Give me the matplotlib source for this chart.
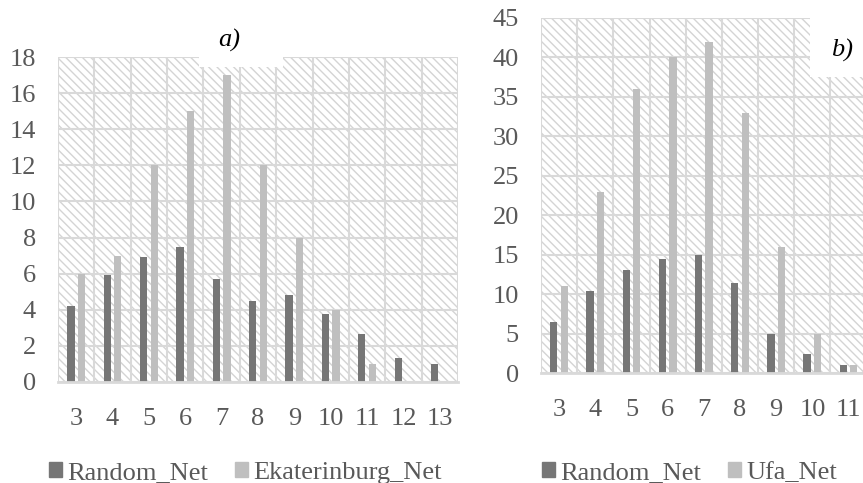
import numpy as np
import matplotlib
matplotlib.use('Agg')
import matplotlib.pyplot as plt
from matplotlib.patches import Rectangle

# --- data ---
cats_a = [3, 4, 5, 6, 7, 8, 9, 10, 11, 12, 13]
random_a = [4.2, 5.9, 6.9, 7.5, 5.7, 4.5, 4.8, 3.75, 2.65, 1.35, 1.0]
ekb_a = [6, 7, 12, 15, 17, 12, 8, 4, 1, 0, 0]

cats_b = [3, 4, 5, 6, 7, 8, 9, 10, 11]
random_b = [6.5, 10.4, 13.0, 14.5, 14.9, 11.4, 4.9, 2.4, 1.0]
ufa_b = [11, 23, 36, 40, 42, 33, 16, 5, 1]

DARK = '#767676'
LIGHT = '#bfbfbf'
GRID = '#d9d9d9'
TXT = '#595959'
FS = 19

plt.rcParams['font.family'] = ['Liberation Serif', 'DejaVu Serif']
plt.rcParams['hatch.linewidth'] = 1.0

W, H = 863, 483
fig = plt.figure(figsize=(W / 100, H / 100), dpi=100)


def px_axes(x0, y0, x1, y1):
    # pixel box -> figure fraction
    return fig.add_axes([x0 / W, 1 - y1 / H, (x1 - x0) / W, (y1 - y0) / H])


def draw_panel(ax, cats, s1, s2, ymax, ystep):
    ax.add_patch(Rectangle((0, 0), 1, 1, transform=ax.transAxes, facecolor='white',
                           edgecolor='#d4d4d4', hatch='\\' * 4, linewidth=0, zorder=0.1))
    ax.patch.set_visible(False)
    x = np.array(cats, dtype=float)
    ax.bar(x - 0.145, s1, width=0.2, color=DARK, zorder=2)
    ax.bar(x + 0.145, s2, width=0.2, color=LIGHT, zorder=2)
    ax.set_xlim(2.5, 13.5)
    ax.set_ylim(0, ymax)
    ax.set_yticks(np.arange(0, ymax + 0.1, ystep))
    ax.set_xticks(cats)
    ax.set_xticks(np.arange(2.5, 13.6, 1), minor=True)
    ax.grid(axis='y', which='major', color=GRID, lw=1.5, zorder=0.5)
    ax.grid(axis='x', which='minor', color=GRID, lw=1.5, zorder=0.5)
    ax.set_axisbelow(True)
    for s in ['top', 'right', 'left']:
        ax.spines[s].set_visible(False)
    ax.spines['bottom'].set_color(GRID)
    ax.spines['bottom'].set_linewidth(2)
    ax.tick_params(which='both', length=0, labelsize=FS, colors=TXT)
    ax.tick_params(axis='y', pad=16)
    ax.tick_params(axis='x', pad=19)


ax1 = px_axes(58, 57, 458, 382)
draw_panel(ax1, cats_a, random_a, ekb_a, 18, 2)

ax2 = px_axes(541, 18, 939, 373)
draw_panel(ax2, cats_b, random_b, ufa_b, 45, 5)

# white boxes behind the panel labels
fig.add_artist(Rectangle((199 / W, 1 - 67 / H), 84 / W, 50 / H, transform=fig.transFigure,
                         facecolor='white', edgecolor='none', zorder=3))
fig.add_artist(Rectangle((810 / W, 1 - 77 / H), 60 / W, 60 / H, transform=fig.transFigure,
                         facecolor='white', edgecolor='none', zorder=3))
fig.text(229 / W, 1 - 40 / H, 'a)', style='italic', fontsize=FS, ha='center', va='center',
         color='black', zorder=4)
fig.text(842 / W, 1 - 50 / H, 'b)', style='italic', fontsize=FS, ha='center', va='center',
         color='black', zorder=4)

# legends
leg_kw = dict(frameon=False, ncol=2, fontsize=FS, handlelength=0.5, handleheight=0.5,
              handletextpad=0.2, columnspacing=1.0, labelcolor=TXT, borderpad=0,
              borderaxespad=0)
h1 = [Rectangle((0, 0), 1, 1, color=DARK), Rectangle((0, 0), 1, 1, color=LIGHT)]
fig.legend(h1, ['Random_Net', 'Ekaterinburg_Net'], loc='center left',
           bbox_to_anchor=(49 / W, 1 - 473 / H), **leg_kw)
fig.legend(h1, ['Random_Net', 'Ufa_Net'], loc='center left',
           bbox_to_anchor=(542 / W, 1 - 473 / H), **leg_kw)

fig.savefig('out.png', dpi=100)
